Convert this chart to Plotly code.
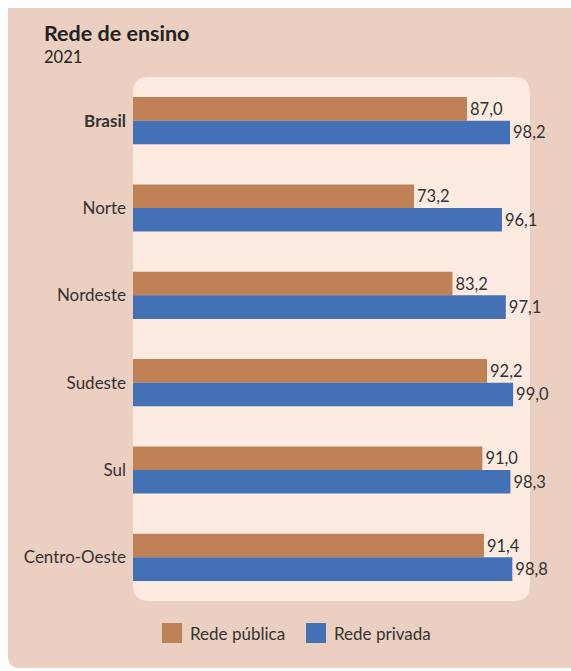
import plotly.graph_objects as go

regions = ["Brasil", "Norte", "Nordeste", "Sudeste", "Sul", "Centro-Oeste"]
publica = [87.0, 73.2, 83.2, 92.2, 91.0, 91.4]
privada = [98.2, 96.1, 97.1, 99.0, 98.3, 98.8]
series_names = ["Rede pública", "Rede privada"]
colors = ["#bf8155", "#4470b5"]
title = "Rede de ensino"
subtitle = "2021"

W, H = 571, 671
L, R, T, B = 133, 530, 77, 601  # plot area in px
PW, PH = R - L, B - T
FONT = "Lato"
TXT = "#333333"


def px(x):
    return (x - L) / PW


def py(y):
    return (B - y) / PH


def rrect(x0, y0, x1, y1, r_tl, r_tr, r_br, r_bl):
    pts = []
    pts.append(f"M{px(x0 + r_tl)},{py(y0)}")
    pts.append(f"L{px(x1 - r_tr)},{py(y0)}")
    pts.append(f"Q{px(x1)},{py(y0)} {px(x1)},{py(y0 + r_tr)}")
    pts.append(f"L{px(x1)},{py(y1 - r_br)}")
    pts.append(f"Q{px(x1)},{py(y1)} {px(x1 - r_br)},{py(y1)}")
    pts.append(f"L{px(x0 + r_bl)},{py(y1)}")
    pts.append(f"Q{px(x0)},{py(y1)} {px(x0)},{py(y1 - r_bl)}")
    pts.append(f"L{px(x0)},{py(y0 + r_tl)}")
    pts.append(f"Q{px(x0)},{py(y0)} {px(x0 + r_tl)},{py(y0)}")
    pts.append("Z")
    return " ".join(pts)


def fmt(v):
    return f"{v:.1f}".replace(".", ",")


fig = go.Figure()
for name, vals, col in zip(series_names, [publica, privada], colors):
    fig.add_trace(go.Bar(
        y=regions, x=vals, orientation="h", name=name,
        marker=dict(color=col, line=dict(width=0)),
        text=[fmt(v) for v in vals], textposition="outside",
        textfont=dict(family=FONT, size=16.5, color=TXT),
        cliponaxis=False, showlegend=False,
    ))

ticktext = [f"<b>{r}</b>" if r == "Brasil" else r for r in regions]

shapes = [
    dict(type="path", xref="paper", yref="paper", layer="below",
         path=rrect(8, 8, 600, 668, 0, 0, 0, 12),
         fillcolor="#ebcfc0", line=dict(width=0)),
    dict(type="path", xref="paper", yref="paper", layer="below",
         path=rrect(L, T, R, B, 16, 16, 16, 16),
         fillcolor="#fdebe2", line=dict(width=0)),
]

annotations = [
    dict(text=f"<b>{title}</b>", xref="paper", yref="paper",
         x=px(42), y=py(33), xanchor="left", yanchor="middle",
         showarrow=False,
         font=dict(family=FONT, size=21.5, weight=900, color="#222222")),
    dict(text=subtitle, xref="paper", yref="paper",
         x=px(42), y=py(57), xanchor="left", yanchor="middle",
         showarrow=False, font=dict(family=FONT, size=16.5, color="#222222")),
]

# legend (swatch + label)
leg_sq_x = [162, 306]
for name, col, sx in zip(series_names, colors, leg_sq_x):
    shapes.append(dict(type="rect", xref="paper", yref="paper",
                       x0=px(sx), x1=px(sx + 20), y0=py(623), y1=py(643),
                       fillcolor=col, line=dict(width=0)))
    annotations.append(dict(text=name, xref="paper", yref="paper",
                            x=px(sx + 26), y=py(633), xanchor="left",
                            yanchor="middle", showarrow=False,
                            font=dict(family=FONT, size=17, color=TXT)))

fig.update_layout(
    width=W, height=H,
    margin=dict(l=L, r=W - R, t=T, b=H - B, pad=0),
    paper_bgcolor="white", plot_bgcolor="rgba(0,0,0,0)",
    barmode="group", bargap=0.46, bargroupgap=0,
    xaxis=dict(range=[0, 103.4], visible=False, fixedrange=True),
    yaxis=dict(range=[5.5, -0.5], tickmode="array", tickvals=regions,
               ticktext=ticktext, showgrid=False, zeroline=False,
               showline=False, ticks="", ticklabelstandoff=6,
               tickfont=dict(family=FONT, size=17, color=TXT)),
    shapes=shapes,
    annotations=annotations,
    showlegend=False,
)

fig.write_html("out.html")
